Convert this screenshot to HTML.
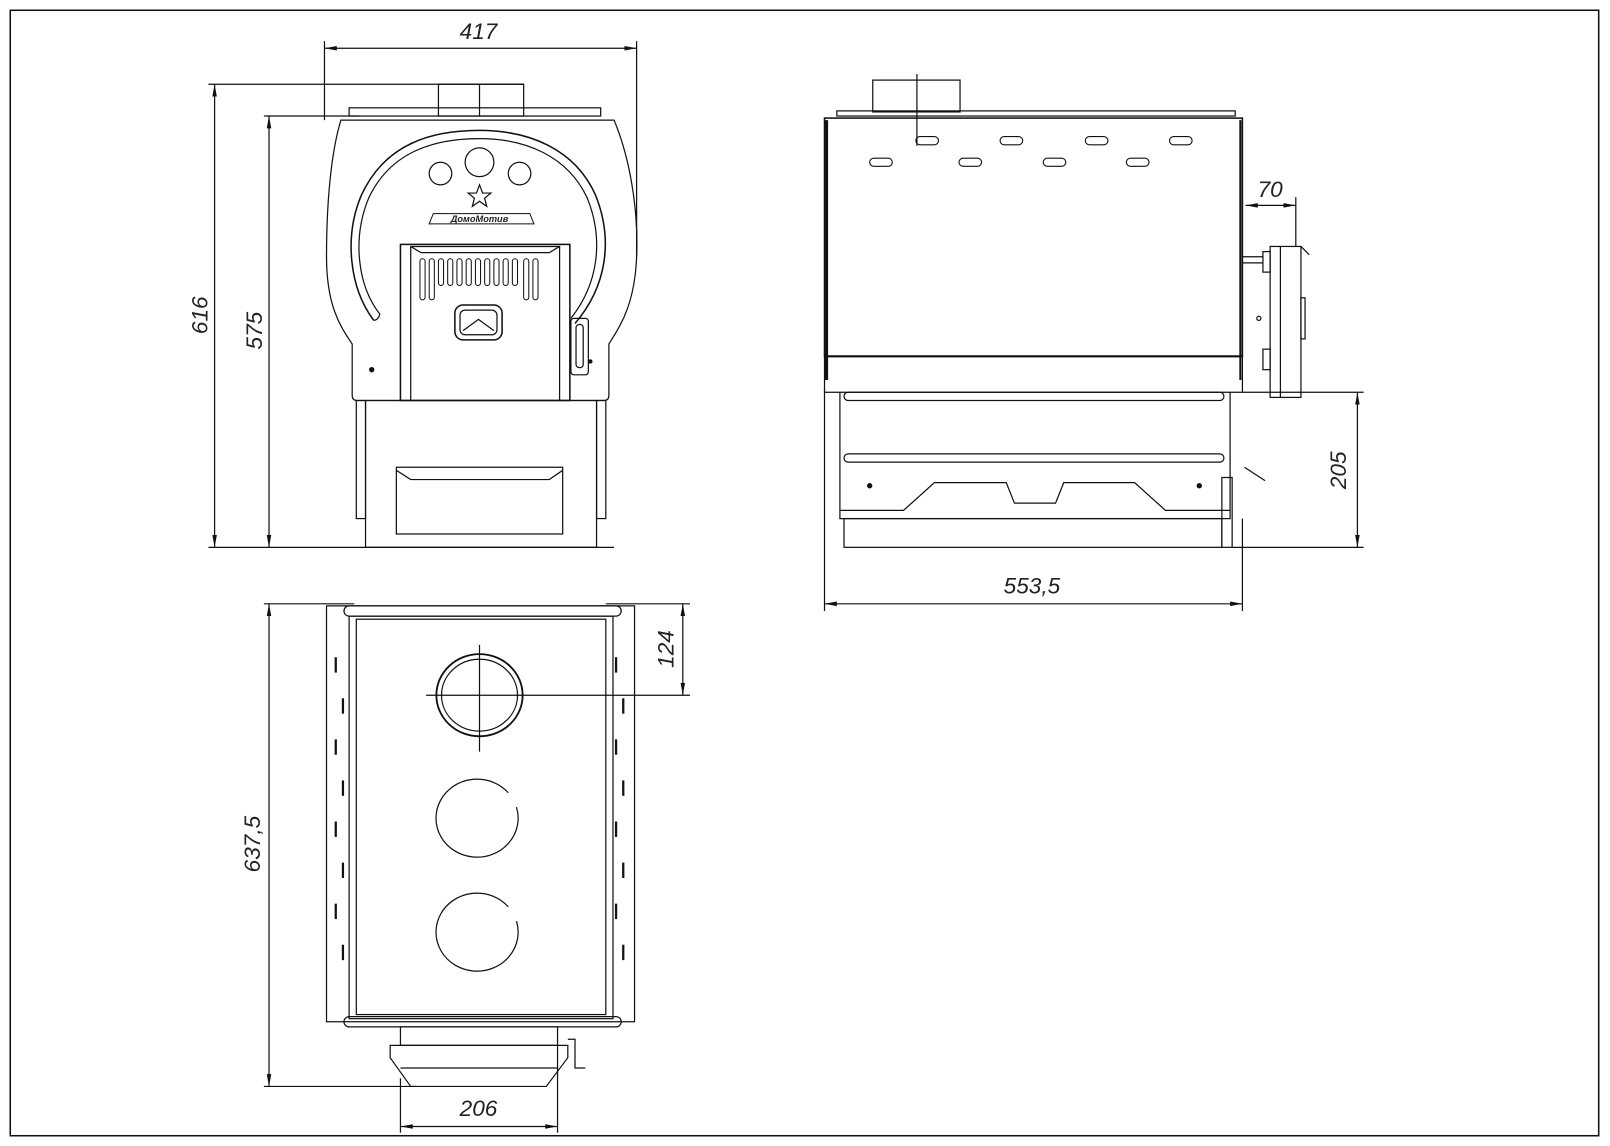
<!DOCTYPE html>
<html><head><meta charset="utf-8"><style>
html,body{margin:0;padding:0;background:#fff;}
svg{display:block;}
text{font-family:"Liberation Sans",sans-serif;font-style:italic;fill:#222;}
</style></head><body>
<svg width="1610" height="1146" viewBox="0 0 1568 1116" preserveAspectRatio="none" xmlns="http://www.w3.org/2000/svg">
<defs>
<marker id="a" viewBox="0 0 12 6" refX="12" refY="3" markerWidth="12" markerHeight="6" orient="auto-start-reverse" markerUnits="userSpaceOnUse"><path d="M12,3 L0,0.8 L0,5.2Z" fill="#111"/></marker>
</defs>
<g fill="none" stroke="#111" stroke-width="1.2">
<rect x="10" y="10" width="1547" height="1096" stroke-width="1.5"/>

<!-- FRONT VIEW dims -->
<line x1="316" y1="40" x2="316" y2="117"/>
<line x1="620" y1="40" x2="620" y2="250"/>
<line x1="316" y1="47" x2="620" y2="47" marker-start="url(#a)" marker-end="url(#a)"/>
<line x1="203" y1="82" x2="510" y2="82"/>
<line x1="257" y1="113" x2="350" y2="113"/>
<line x1="203" y1="533" x2="598" y2="533"/>
<line x1="209" y1="82" x2="209" y2="533" marker-start="url(#a)" marker-end="url(#a)"/>
<line x1="262" y1="113" x2="262" y2="533" marker-start="url(#a)" marker-end="url(#a)"/>

<!-- front body -->
<rect x="427" y="82" width="83" height="31"/>
<line x1="467" y1="82" x2="467" y2="113"/>
<rect x="340" y="105" width="245" height="8"/>
<path d="M332,117 L598,117 C612,150 622,200 620,250 C618,300 602,320 593,335 L593,385 Q593,390 588,390 L348,390 Q343,390 343,385 L343,335 C333,320 318,300 318,250 C318,200 322,150 332,117 Z"/>
<path d="M364,312 C340,280 335,230 352,190 C375,140 420,127 467,127 C515,127 560,145 580,190 C598,235 590,280 560,315" stroke-width="1.5"/>
<path d="M370,306 C348,278 343,232 359,193 C380,148 422,135 467,135 C512,135 553,152 572,193 C588,233 583,276 556,310"/>
<path d="M364,312 Q368,312 370,306"/>
<circle cx="429" cy="169" r="11"/>
<circle cx="467" cy="158" r="14"/>
<circle cx="506" cy="169" r="11"/>
<path d="M467,180 L470,188 L478,188 L472,193 L474,201 L467,196 L460,201 L462,193 L456,188 L464,188Z"/>
<path d="M418,218 L520,218 L516,208 L422,208 Z" stroke-width="1"/>
<rect x="390" y="238" width="165" height="152" stroke-width="1.5"/>
<path d="M400,390 L400,240 L545,240 L545,390"/>
<path d="M400,240 L410,246 L535,246 L545,240"/>
<g stroke-width="1">
<rect x="409" y="252" width="5" height="40" rx="2.5"/>
<rect x="418" y="252" width="5" height="40" rx="2.5"/>
<rect x="427" y="252" width="5" height="26" rx="2.5"/>
<rect x="436" y="252" width="5" height="26" rx="2.5"/>
<rect x="445" y="252" width="5" height="26" rx="2.5"/>
<rect x="454" y="252" width="5" height="26" rx="2.5"/>
<rect x="463" y="252" width="5" height="26" rx="2.5"/>
<rect x="472" y="252" width="5" height="26" rx="2.5"/>
<rect x="481" y="252" width="5" height="26" rx="2.5"/>
<rect x="490" y="252" width="5" height="26" rx="2.5"/>
<rect x="499" y="252" width="5" height="26" rx="2.5"/>
<rect x="510" y="252" width="5" height="40" rx="2.5"/>
<rect x="519" y="252" width="5" height="40" rx="2.5"/>
</g>
<rect x="443" y="297" width="46" height="34" rx="8" stroke-width="1.5"/>
<rect x="448" y="302" width="36" height="24" rx="5"/>
<path d="M451,322 L466,311 L481,322" />
<rect x="556" y="310" width="17" height="55" rx="3"/>
<rect x="561" y="316" width="7" height="42" rx="3"/>
<circle cx="362" cy="360" r="2" fill="#111"/>
<circle cx="575" cy="352" r="1.5" fill="#111"/>
<rect x="347" y="390" width="9" height="115"/>
<rect x="581" y="390" width="9" height="115"/>
<rect x="356" y="390" width="225" height="143"/>
<rect x="386" y="455" width="162" height="65"/>
<path d="M386,458 L400,467 L535,467 L548,458"/>

<!-- SIDE VIEW -->
<rect x="850" y="78" width="85" height="31"/>
<line x1="893" y1="72" x2="893" y2="142"/>
<rect x="815" y="108" width="388" height="5"/>
<rect x="803" y="115" width="407" height="232" stroke-width="1.5"/>
<line x1="805" y1="117" x2="805" y2="370" stroke-width="3"/>
<line x1="1208" y1="117" x2="1208" y2="370" stroke-width="2"/>
<line x1="803" y1="347" x2="1210" y2="347" stroke-width="2"/>
<rect x="803" y="347" width="407" height="35"/>
<g stroke-width="1.1">
<rect x="892" y="133" width="22" height="8" rx="4"/>
<rect x="974" y="133" width="22" height="8" rx="4"/>
<rect x="1057" y="133" width="22" height="8" rx="4"/>
<rect x="1139" y="133" width="22" height="8" rx="4"/>
<rect x="847" y="154" width="22" height="8" rx="4"/>
<rect x="934" y="154" width="22" height="8" rx="4"/>
<rect x="1016" y="154" width="22" height="8" rx="4"/>
<rect x="1097" y="154" width="22" height="8" rx="4"/>
</g>
<path d="M818,382 L818,505 L1198,505 L1198,382"/>
<rect x="822" y="382" width="370" height="8" rx="4"/>
<rect x="822" y="442" width="370" height="8" rx="4"/>
<path d="M818,497 L880,497 L910,470 L980,470 L988,490 L1028,490 L1036,470 L1105,470 L1135,497 L1198,497"/>
<circle cx="847" cy="473" r="2" fill="#111"/>
<circle cx="1168" cy="473" r="2" fill="#111"/>
<rect x="822" y="505" width="368" height="28"/>
<rect x="1190" y="465" width="10" height="68"/>
<rect x="1237" y="240" width="30" height="147"/>
<line x1="1247" y1="240" x2="1247" y2="387"/>
<rect x="1230" y="245" width="7" height="20"/>
<rect x="1230" y="340" width="7" height="20"/>
<line x1="1210" y1="250" x2="1230" y2="250"/>
<line x1="1210" y1="256" x2="1230" y2="256"/>
<rect x="1267" y="290" width="4" height="40"/>
<circle cx="1226" cy="310" r="2"/>
<line x1="1212" y1="455" x2="1232" y2="468"/>
<line x1="1267" y1="240" x2="1275" y2="248"/>
<!-- side dims -->
<line x1="1262" y1="192" x2="1262" y2="240"/>
<line x1="1213" y1="200" x2="1262" y2="200" marker-start="url(#a)" marker-end="url(#a)"/>
<line x1="1210" y1="382" x2="1328" y2="382"/>
<line x1="1200" y1="533" x2="1328" y2="533"/>
<line x1="1322" y1="382" x2="1322" y2="533" marker-start="url(#a)" marker-end="url(#a)"/>
<line x1="803" y1="380" x2="803" y2="595"/>
<line x1="1210" y1="505" x2="1210" y2="595"/>
<line x1="803" y1="588" x2="1210" y2="588" marker-start="url(#a)" marker-end="url(#a)"/>

<!-- PLAN VIEW -->
<line x1="257" y1="588" x2="345" y2="588"/>
<line x1="257" y1="1058" x2="405" y2="1058"/>
<line x1="262" y1="588" x2="262" y2="1058" marker-start="url(#a)" marker-end="url(#a)"/>
<rect x="318" y="590" width="300" height="405"/>
<rect x="335" y="590" width="270" height="10" rx="5"/>
<rect x="335" y="990" width="270" height="10" rx="5"/>
<rect x="340" y="600" width="257" height="392"/>
<rect x="347" y="603" width="243" height="385"/>
<g stroke-width="2.2">
<line x1="327" y1="640" x2="327" y2="655"/><line x1="334" y1="680" x2="334" y2="695"/>
<line x1="327" y1="720" x2="327" y2="735"/><line x1="334" y1="760" x2="334" y2="775"/>
<line x1="327" y1="800" x2="327" y2="815"/><line x1="334" y1="840" x2="334" y2="855"/>
<line x1="327" y1="880" x2="327" y2="895"/><line x1="334" y1="920" x2="334" y2="935"/>
<line x1="600" y1="640" x2="600" y2="655"/><line x1="607" y1="680" x2="607" y2="695"/>
<line x1="600" y1="720" x2="600" y2="735"/><line x1="607" y1="760" x2="607" y2="775"/>
<line x1="600" y1="800" x2="600" y2="815"/><line x1="607" y1="840" x2="607" y2="855"/>
<line x1="600" y1="880" x2="600" y2="895"/><line x1="607" y1="920" x2="607" y2="935"/>
</g>
<ellipse cx="467" cy="677" rx="42" ry="40" stroke-width="1.8"/>
<ellipse cx="467" cy="677" rx="37" ry="35"/>
<path d="M495,772 A40,38 0 1 0 503,786"/>
<path d="M495,883 A40,38 0 1 0 503,897"/>
<line x1="467" y1="628" x2="467" y2="732"/>
<line x1="415" y1="677" x2="672" y2="677"/>
<line x1="590" y1="588" x2="672" y2="588"/>
<line x1="665" y1="588" x2="665" y2="677" marker-start="url(#a)" marker-end="url(#a)"/>
<rect x="390" y="1000" width="153" height="18"/>
<path d="M380,1018 L553,1018 L553,1030 L532,1058 L400,1058 L380,1030 Z"/>
<line x1="390" y1="1040" x2="543" y2="1040"/>
<path d="M553,1012 L560,1012 L560,1040 L570,1040"/>
<line x1="390" y1="1050" x2="390" y2="1103"/>
<line x1="543" y1="1018" x2="543" y2="1103"/>
<line x1="390" y1="1097" x2="543" y2="1097" marker-start="url(#a)" marker-end="url(#a)"/>
</g>
<g font-size="22">
<text x="466" y="38" text-anchor="middle">417</text>
<text transform="translate(202,307) rotate(-90)" text-anchor="middle">616</text>
<text transform="translate(255,322) rotate(-90)" text-anchor="middle">575</text>
<text x="1237" y="192" text-anchor="middle">70</text>
<text transform="translate(1311,458) rotate(-90)" text-anchor="middle">205</text>
<text x="1005" y="578" text-anchor="middle">553,5</text>
<text transform="translate(656,632) rotate(-90)" text-anchor="middle">124</text>
<text transform="translate(253,822) rotate(-90)" text-anchor="middle">637,5</text>
<text x="466" y="1087" text-anchor="middle">206</text>
</g>
<text x="467" y="216" font-size="9" text-anchor="middle" font-weight="bold">ДомоМотив</text>
</svg>
</body></html>
